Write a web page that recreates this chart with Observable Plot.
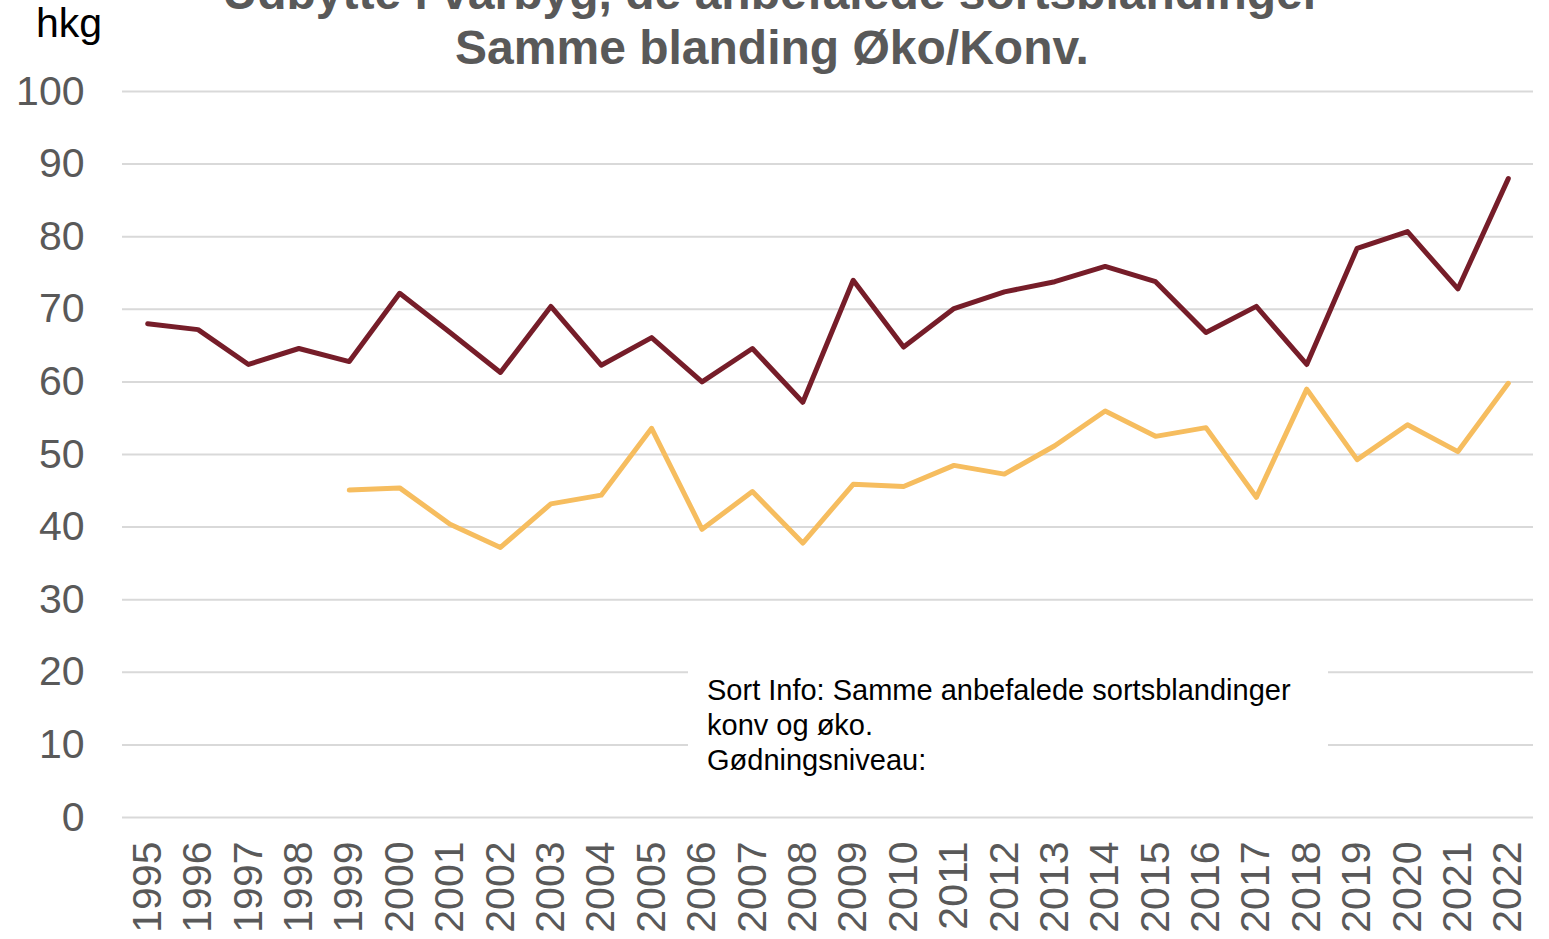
<!DOCTYPE html>
<html>
<head>
<meta charset="utf-8">
<script src="https://cdn.jsdelivr.net/npm/d3@7"></script>
<script src="https://cdn.jsdelivr.net/npm/@observablehq/plot@0.6"></script>
<style>
  html, body { margin: 0; padding: 0; background: #fff; overflow: hidden; }
  #wrap { position: relative; width: 1549px; height: 939px; overflow: hidden; font-family: "Liberation Sans", Arial, sans-serif; }
  #title { position: absolute; left: 0; width: 1544px; top: -35px; text-align: center; font-weight: bold; font-size: 48px; line-height: 55px; color: #595959; white-space: nowrap; }
  #unit { position: absolute; left: 36px; top: 3px; font-size: 41px; line-height: 41px; color: #000; }
  #note { position: absolute; left: 688px; top: 660px; width: 621px; height: 126px; padding: 13px 0 0 19px; background: #fff; font-size: 29px; line-height: 35px; color: #000; white-space: nowrap; }
  #chart { position: absolute; left: 0; top: 0; }
</style>
</head>
<body>
<div id="wrap">
  <div id="chart"></div>
  <div id="title">Udbytte i vårbyg, de anbefalede sortsblandinger<br>Samme blanding Øko/Konv.</div>
  <div id="unit">hkg</div>
  <div id="note">Sort Info: Samme anbefalede sortsblandinger<br>konv og øko.<br>Gødningsniveau:</div>
</div>
<script>
const years = [1995,1996,1997,1998,1999,2000,2001,2002,2003,2004,2005,2006,2007,2008,2009,2010,2011,2012,2013,2014,2015,2016,2017,2018,2019,2020,2021,2022];
const konv = [68.0,67.2,62.4,64.6,62.8,72.2,66.8,61.3,70.4,62.3,66.1,60.0,64.6,57.2,74.0,64.8,70.1,72.4,73.8,75.9,73.8,66.8,70.4,62.4,78.4,80.7,72.8,88.0];
const oko  = [null,null,null,null,45.1,45.4,40.4,37.2,43.2,44.4,53.6,39.7,44.9,37.8,45.9,45.6,48.5,47.3,51.2,56.0,52.5,53.7,44.1,59.0,49.3,54.1,50.4,59.8];
const yTicks = [0,10,20,30,40,50,60,70,80,90,100];
const konvColor = "#761D29";
const okoColor = "#F6BD5F";

const konvRows = years.map((y, i) => ({year: String(y), value: konv[i]}));
const okoRows = years.map((y, i) => ({year: String(y), value: oko[i]})).filter(d => d.value != null);

const chart = Plot.plot({
  width: 1549,
  height: 939,
  marginLeft: 122,
  marginRight: 16,
  marginTop: 91,
  marginBottom: 122,
  style: { fontFamily: "'Liberation Sans', Arial, sans-serif", fontSize: "41px", color: "#595959", background: "transparent" },
  x: { type: "point", domain: years.map(String), padding: 0.5, round: false },
  y: { domain: [0, 100] },
  marks: [
    Plot.ruleY(yTicks, { stroke: "#d9d9d9", strokeWidth: 2 }),
    Plot.axisY({ ticks: yTicks, tickSize: 0, tickPadding: 38, label: null, fontSize: 41 }),
    Plot.axisX({ tickSize: 0, tickPadding: 24, tickRotate: -90, label: null, fontSize: 41 }),
    Plot.line(okoRows, { x: "year", y: "value", stroke: okoColor, strokeWidth: 5, strokeLinecap: "round", strokeLinejoin: "round" }),
    Plot.line(konvRows, { x: "year", y: "value", stroke: konvColor, strokeWidth: 5, strokeLinecap: "round", strokeLinejoin: "round" })
  ]
});
document.getElementById("chart").appendChild(chart);
</script>
</body>
</html>
